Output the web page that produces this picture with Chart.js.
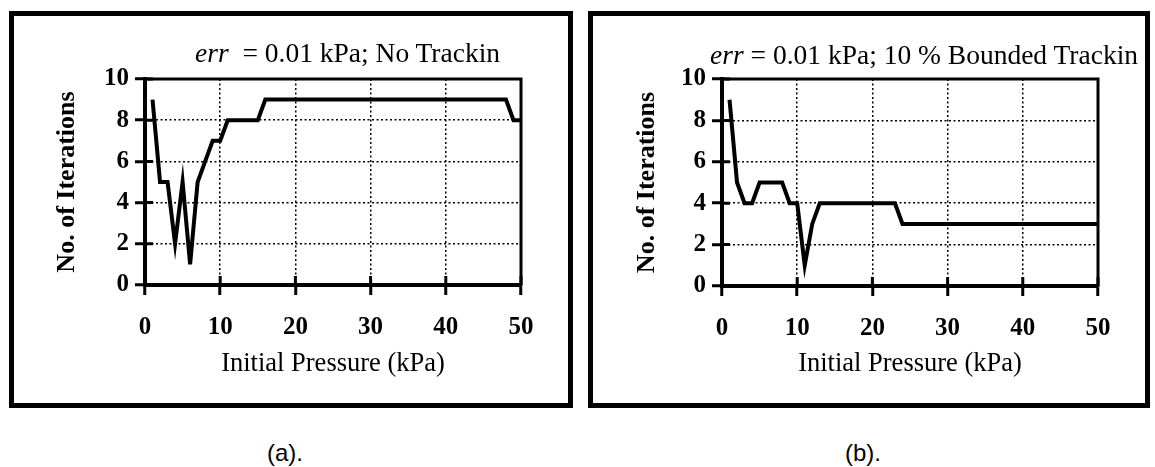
<!DOCTYPE html>
<html>
<head>
<meta charset="utf-8">
<script src="https://cdn.jsdelivr.net/npm/chart.js@4/dist/chart.umd.min.js"></script>
<style>
  body { margin: 0; background: #fff; width: 1155px; height: 467px; overflow: hidden; position: relative; }
  .panel { position: absolute; border: 5px solid #000; box-sizing: border-box; background: #fff; }
  .panel canvas { position: absolute; left: 0; top: 0; }
  .hdr { position: absolute; font: 27.5px "Liberation Serif", "Times New Roman", serif; line-height: 30px; white-space: nowrap; color: #000; }
  .cap { position: absolute; font: 24px "Liberation Sans", Arial, sans-serif; line-height: 28px; width: 80px; text-align: center; color: #000; }
</style>
</head>
<body>
<div class="panel" id="boxA" style="left:9px;top:11px;width:564px;height:397px;">
  <canvas id="chartA" width="554" height="387"></canvas>
</div>
<div class="panel" id="boxB" style="left:588px;top:11px;width:562px;height:397px;">
  <canvas id="chartB" width="552" height="387"></canvas>
</div>
<div class="hdr" style="left:195px;top:38px;"><i>err</i> &nbsp;= 0.01 kPa; No Trackin</div>
<div class="hdr" style="left:710px;top:40px;"><i>err</i> = 0.01 kPa; 10 % Bounded Trackin</div>
<div class="cap" style="left:245px;top:439px;">(a).</div>
<div class="cap" style="left:823px;top:439px;">(b).</div>

<script>
// presión inicial (kPa) de cada corrida
const pressure = [1, 2, 3, 4, 5, 6, 7, 8, 9, 10,
                  11, 12, 13, 14, 15, 16, 17, 18, 19, 20,
                  21, 22, 23, 24, 25, 26, 27, 28, 29, 30,
                  31, 32, 33, 34, 35, 36, 37, 38, 39, 40,
                  41, 42, 43, 44, 45, 46, 47, 48, 49, 50];

// iteraciones sin seguimiento
const iterNoTracking = [9, 5, 5, 2, 5, 1, 5, 6, 7, 7,
                        8, 8, 8, 8, 8, 9, 9, 9, 9, 9,
                        9, 9, 9, 9, 9, 9, 9, 9, 9, 9,
                        9, 9, 9, 9, 9, 9, 9, 9, 9, 9,
                        9, 9, 9, 9, 9, 9, 9, 9, 8, 8];

// iteraciones con seguimiento acotado al 10 %
const iterBounded = [9, 5, 4, 4, 5, 5, 5, 5, 4, 4,
                     1, 3, 4, 4, 4, 4, 4, 4, 4, 4,
                     4, 4, 4, 3, 3, 3, 3, 3, 3, 3,
                     3, 3, 3, 3, 3, 3, 3, 3, 3, 3,
                     3, 3, 3, 3, 3, 3, 3, 3, 3, 3];

const xTicks = [0, 10, 20, 30, 40, 50];
const yTicks = [0, 2, 4, 6, 8, 10];

const serif = '"Liberation Serif", "Times New Roman", serif';

// marco del área de datos y marcas de graduación hacia adentro
const framePlugin = {
    id: 'frame',
    afterDraw(chart) {
        const { ctx, chartArea: a, scales: { x, y } } = chart;
        ctx.save();
        ctx.strokeStyle = '#000';
        ctx.lineWidth = 3;
        ctx.strokeRect(a.left, a.top, a.right - a.left, a.bottom - a.top);
        ctx.beginPath();
        y.ticks.forEach(t => {
            const py = y.getPixelForValue(t.value);
            ctx.moveTo(a.left, py);
            ctx.lineTo(a.left + 8, py);
        });
        x.ticks.forEach(t => {
            const px = x.getPixelForValue(t.value);
            ctx.moveTo(px, a.bottom);
            ctx.lineTo(px, a.bottom - 9);
        });
        ctx.stroke();
        ctx.restore();
    }
};

function gridColor(min, max) {
    return c => (c.tick.value === min || c.tick.value === max) ? 'rgba(0,0,0,0)' : '#000';
}

function makeChart(canvasId, values, g) {
    const ctx = document.getElementById(canvasId).getContext('2d');
    return new Chart(ctx, {
        type: 'line',
        data: {
            datasets: [{
                data: pressure.map((p, i) => ({ x: p, y: values[i] })),
                borderColor: '#000',
                borderWidth: 4,
                pointRadius: 0,
                tension: 0,
                fill: false
            }]
        },
        options: {
            responsive: false,
            animation: false,
            devicePixelRatio: 1,
            layout: { padding: { top: g.top, right: g.right, left: 0, bottom: 0 } },
            plugins: { legend: { display: false }, tooltip: { enabled: false }, title: { display: false } },
            scales: {
                x: {
                    type: 'linear',
                    min: xTicks[0],
                    max: xTicks[xTicks.length - 1],
                    afterBuildTicks: s => { s.ticks = xTicks.map(v => ({ value: v })); },
                    afterFit: s => { s.height = g.xHeight; },
                    ticks: { color: '#000', padding: 18, font: { family: serif, size: 25, weight: 'bold' } },
                    grid: { color: gridColor(0, 50), lineWidth: 1.5, tickColor: '#000', tickWidth: 3, tickLength: 10 },
                    border: { color: '#000', width: 4, dash: [2, 2.5] },
                    title: { display: true, text: 'Initial Pressure (kPa)', color: '#000',
                             font: { family: serif, size: 26.5 }, padding: { top: 0, bottom: 23 } }
                },
                y: {
                    min: yTicks[0],
                    max: yTicks[yTicks.length - 1],
                    afterBuildTicks: s => { s.ticks = yTicks.map(v => ({ value: v })); },
                    afterFit: s => { s.width = g.yWidth; },
                    ticks: { color: '#000', padding: 6, font: { family: serif, size: 25, weight: 'bold' } },
                    grid: { color: gridColor(0, 10), lineWidth: 1.5, tickColor: '#000', tickWidth: 3, tickLength: 10 },
                    border: { color: '#000', width: 4, dash: [2, 2.5] },
                    title: { display: true, text: 'No. of Iterations', color: '#000',
                             font: { family: serif, size: 26, weight: 'bold' }, padding: { top: g.yTitle, bottom: 0 } }
                }
            }
        },
        plugins: [framePlugin]
    });
}

makeChart('chartA', iterNoTracking, { top: 63, right: 47, xHeight: 118, yWidth: 131, yTitle: 38 });
makeChart('chartB', iterBounded, { top: 63, right: 47, xHeight: 117, yWidth: 129, yTitle: 39 });
</script>
</body>
</html>
